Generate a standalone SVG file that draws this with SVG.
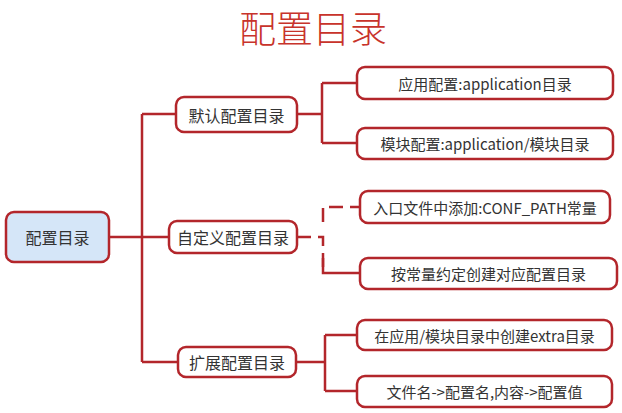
<svg xmlns="http://www.w3.org/2000/svg" width="622" height="413" viewBox="0 0 622 413">
<style>
.box{fill:#ffffff;stroke:#b3262b;stroke-width:2.5}
.root{fill:#d5e6f8;stroke:#b3262b;stroke-width:2.5}
.ln{fill:none;stroke:#b3262b;stroke-width:2.5}
.dash{fill:none;stroke:#b3262b;stroke-width:2.5;stroke-dasharray:14 7}
text{font-family:"Noto Sans CJK SC","Noto Sans",sans-serif;fill:#333;text-anchor:middle;dominant-baseline:central}
.t1{font-size:16px}
.t2{font-size:15px}
.title{font-size:37px;fill:#c8332b;font-weight:300}
</style>
<rect width="622" height="413" fill="#ffffff"/>
<text class="title" x="313" y="27">配置目录</text>
<g id="connectors">
<path class="ln" d="M109 237 H168 M142 114 V362 M142 114 H176 M142 362 H178"/>
<path class="ln" d="M297 114 H322 M322 83 V143 M322 83 H357 M322 143 H357"/>
<path class="dash" d="M297 237 H323 V273 M323 222 V207 H360"/>
<path class="ln" d="M323 258 V273 H360"/>
<path class="ln" d="M296 362 H325 M325 335 V391 M325 335 H357 M325 391 H357"/>
</g>
<g id="root"><rect class="root" x="6" y="212" width="103" height="50" rx="8"/><text class="t1" x="57.5" y="237">配置目录</text></g>
<g id="n1"><rect class="box" x="176" y="97" width="121" height="35" rx="8"/><text class="t1" x="236.5" y="114.5">默认配置目录</text></g>
<g id="n2"><rect class="box" x="169" y="221" width="128" height="32" rx="8"/><text class="t1" x="233" y="237">自定义配置目录</text></g>
<g id="n3"><rect class="box" x="178" y="347" width="118" height="30" rx="8"/><text class="t1" x="237" y="362">扩展配置目录</text></g>
<g id="n1a"><rect class="box" x="357" y="67" width="256" height="32" rx="8"/><text class="t2" x="485" y="83">应用配置:application目录</text></g>
<g id="n1b"><rect class="box" x="357" y="128" width="256" height="31" rx="8"/><text class="t2" x="485" y="143.5">模块配置:application/模块目录</text></g>
<g id="n2a"><rect class="box" x="360" y="191" width="250" height="32" rx="8"/><text class="t2" x="485" y="207">入口文件中添加:CONF_PATH常量</text></g>
<g id="n2b"><rect class="box" x="360" y="258" width="257" height="31" rx="8"/><text class="t2" x="488.5" y="273.5">按常量约定创建对应配置目录</text></g>
<g id="n3a"><rect class="box" x="357" y="320" width="255" height="30" rx="8"/><text class="t2" x="484.5" y="335">在应用/模块目录中创建extra目录</text></g>
<g id="n3b"><rect class="box" x="357" y="376" width="255" height="31" rx="8"/><text class="t2" x="484.5" y="391.5">文件名-&gt;配置名,内容-&gt;配置值</text></g>
</svg>
